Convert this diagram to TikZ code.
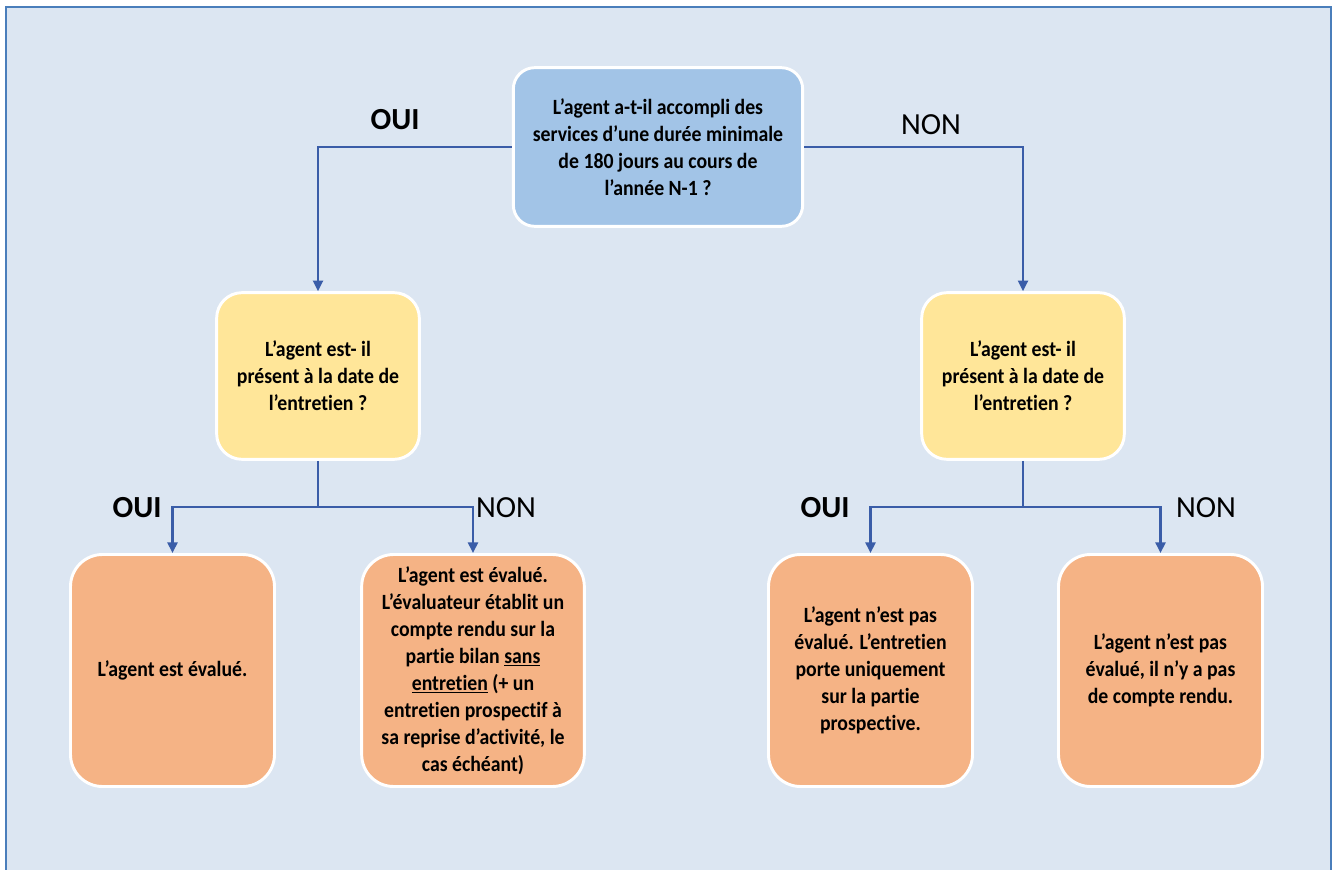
\documentclass[tikz,border=0pt]{standalone}
\usepackage{fontspec}
\setmainfont{Carlito}[Ligatures=NoCommon]
\newfontfamily\boxfont{Carlito}[FakeStretch=0.91,Ligatures=NoCommon]
\usetikzlibrary{arrows.meta}
\definecolor{bgblue}{HTML}{DCE6F2}
\definecolor{frameblue}{HTML}{4A7EBB}
\definecolor{qblue}{HTML}{A2C4E7}
\definecolor{qyellow}{HTML}{FFE699}
\definecolor{rorange}{HTML}{F5B385}
\definecolor{connblue}{HTML}{3A5DA8}
\tikzset{
  box/.style={draw=white, line width=2.2pt, align=center, inner sep=2pt,
    font=\boxfont\fontsize{16.3}{20.3}\selectfont\bfseries, text=black},
  qtop/.style={box, fill=qblue, rounded corners=16pt, minimum width=217pt, minimum height=119pt},
  qmid/.style={box, fill=qyellow, rounded corners=19pt, minimum width=152pt, minimum height=125pt},
  res/.style={box, fill=rorange, rounded corners=24pt, minimum height=174pt},
  conn/.style={draw=connblue, line width=1.8pt, -{Triangle[width=7.5pt,length=8pt]}},
  plain/.style={draw=connblue, line width=1.8pt},
  lab/.style={font=\fontsize{23}{27}\selectfont, text=black, inner sep=0pt},
  labb/.style={lab, font=\fontsize{23}{27}\selectfont\bfseries}
}
\begin{document}
\begin{tikzpicture}[x=0.75pt,y=-0.75pt]
\useasboundingbox (0,0) rectangle (1338,870);
\fill[white] (0,0) rectangle (1338,870);
\fill[bgblue] (6,7) rectangle (1331,880);
\draw[frameblue, line width=1.6pt] (6,880) -- (6,7) -- (1331,7) -- (1331,880);

\node[qtop] (top) at (658,147) {L’agent a-t-il accompli des\\services d’une durée minimale\\de 180 jours au cours de\\l’année N-1 ?};
\node[qmid] (yl) at (318,376) {L’agent est- il\\présent à la date de\\l’entretien ?};
\node[qmid] (yr) at (1023,376) {L’agent est- il\\présent à la date de\\l’entretien ?};

\node[res, minimum width=153pt] (o1) at (172.5,670.5) {L’agent est évalué.};
\node[res, minimum width=167pt] (o2) at (473,670.5) {L’agent est évalué.\\L’évaluateur établit un\\compte rendu sur la\\partie bilan \underline{sans}\\\underline{entretien} (+ un\\entretien prospectif à\\sa reprise d’activité, le\\cas échéant)};
\node[res, minimum width=153pt] (o3) at (870.5,670.5) {L’agent n’est pas\\évalué. L’entretien\\porte uniquement\\sur la partie\\prospective.};
\node[res, minimum width=153pt] (o4) at (1160.5,670.5) {L’agent n’est pas\\évalué, il n’y a pas\\de compte rendu.};

\draw[conn] (top.west) -| (yl.north);
\draw[conn] (top.east) -| (yr.north);

\coordinate (jl) at (318,507);
\coordinate (jr) at (1023,507);
\draw[plain] (yl.south) -- (jl);
\draw[conn] (jl) -| (o1.north);
\draw[conn] (jl) -| (o2.north);
\draw[plain] (yr.south) -- (jr);
\draw[conn] (jr) -| (o3.north);
\draw[conn] (jr) -| (o4.north);

\node[labb] (l1) at (395,120) {OUI};
\node[lab] (l2) at (931,125) {NON};
\node[labb] (l3) at (137,508) {OUI};
\node[lab] (l4) at (506,508) {NON};
\node[labb] (l5) at (825,508) {OUI};
\node[lab] (l6) at (1206,508) {NON};
\end{tikzpicture}
\end{document}
